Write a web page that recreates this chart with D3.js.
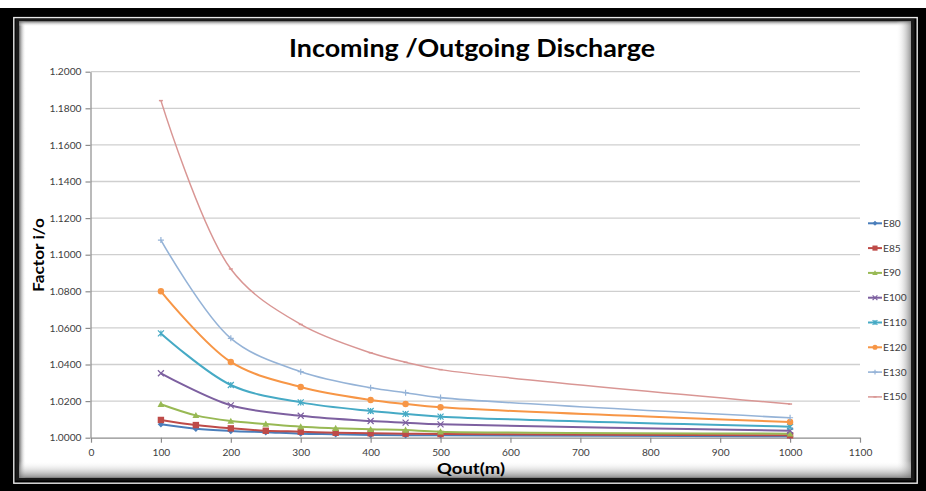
<!DOCTYPE html>
<html>
<head>
<meta charset="utf-8">
<script src="https://cdn.jsdelivr.net/npm/d3@7/dist/d3.min.js"></script>
<style>
  html, body { margin: 0; padding: 0; background: #fff; }
  svg { display: block; font-family: Lato, "Noto Sans", sans-serif; }
</style>
</head>
<body>
<svg id="chart" width="926" height="491"></svg>
<script>
// Outgoing discharge (x values) for the densely sampled and the sparse series
const qoutDense  = [100, 150, 200, 250, 300, 350, 400, 450, 500, 1000];
const qoutSparse = [100, 200, 300, 400, 450, 500, 1000];

// Incoming/outgoing factor per series
const e80  = [1.0073, 1.0049, 1.0037, 1.0030, 1.0022, 1.0019, 1.0015, 1.0013, 1.0013, 1.0008];
const e85  = [1.0097, 1.0069, 1.0051, 1.0038, 1.0033, 1.0027, 1.0024, 1.0022, 1.0020, 1.0013];
const e90  = [1.0183, 1.0122, 1.0091, 1.0075, 1.0060, 1.0052, 1.0046, 1.0042, 1.0033, 1.0022];
const e100 = [1.0352, 1.0177, 1.0120, 1.0091, 1.0082, 1.0073, 1.0038];
const e110 = [1.0570, 1.0288, 1.0193, 1.0146, 1.0130, 1.0115, 1.0060];
const e120 = [1.0800, 1.0414, 1.0277, 1.0206, 1.0184, 1.0166, 1.0086];
const e130 = [1.1080, 1.0543, 1.0361, 1.0273, 1.0246, 1.0219, 1.0109];
const e150 = [1.1842, 1.0922, 1.0619, 1.0464, 1.0412, 1.0372, 1.0184];

const seriesNames = ["E80", "E85", "E90", "E100", "E110", "E120", "E130", "E150"];
const xTicks = [0, 100, 200, 300, 400, 500, 600, 700, 800, 900, 1000, 1100];
const yTicks = [1.0, 1.02, 1.04, 1.06, 1.08, 1.1, 1.12, 1.14, 1.16, 1.18, 1.2];

const series = [
  { name: seriesNames[0], xs: qoutDense,  ys: e80,  color: "#4A7EBB", marker: "diamond",  width: 2 },
  { name: seriesNames[1], xs: qoutDense,  ys: e85,  color: "#BE4B48", marker: "square",   width: 2 },
  { name: seriesNames[2], xs: qoutDense,  ys: e90,  color: "#98B954", marker: "triangle", width: 2 },
  { name: seriesNames[3], xs: qoutSparse, ys: e100, color: "#7D60A0", marker: "x",        width: 2 },
  { name: seriesNames[4], xs: qoutSparse, ys: e110, color: "#46AAC5", marker: "star",     width: 2 },
  { name: seriesNames[5], xs: qoutSparse, ys: e120, color: "#F79646", marker: "circle",   width: 2 },
  { name: seriesNames[6], xs: qoutSparse, ys: e130, color: "#95B3D7", marker: "plus",     width: 1.6 },
  { name: seriesNames[7], xs: qoutSparse, ys: e150, color: "#D99694", marker: "dash",     width: 1.5 }
];

const svg = d3.select("#chart");
const W = 926, H = 491;

// ---- frame ----
const defs = svg.append("defs");
function grad(id, x1, y1, x2, y2, stops) {
  const g = defs.append("linearGradient").attr("id", id)
    .attr("x1", x1).attr("y1", y1).attr("x2", x2).attr("y2", y2);
  stops.forEach(s => g.append("stop").attr("offset", s[0]).attr("stop-color", s[1]).attr("stop-opacity", s[2]));
}
grad("shL", "0", "0", "1", "0", [[0, "#555", 0.9], [1, "#fff", 0]]);
grad("shT", "0", "0", "0", "1", [[0, "#666", 0.8], [1, "#fff", 0]]);
grad("shR", "0", "0", "1", "0", [[0, "#fff", 0], [1, "#777", 0.75]]);
grad("shB", "0", "0", "0", "1", [[0, "#fff", 0], [1, "#777", 0.8]]);

svg.append("rect").attr("width", W).attr("height", H).attr("fill", "#fff");
svg.append("rect").attr("x", 0).attr("y", 8).attr("width", W).attr("height", H - 8).attr("fill", "#000");
svg.append("rect").attr("x", 13.8).attr("y", 17.6).attr("width", 903.4).attr("height", 465.6)
  .attr("fill", "none").attr("stroke", "#e8e8e8").attr("stroke-width", 1.4);
svg.append("rect").attr("x", 15.5).attr("y", 19).attr("width", 899).attr("height", 461.5).attr("fill", "#1a1a1a");
svg.append("rect").attr("x", 19).attr("y", 21.5).attr("width", 892).attr("height", 456).attr("fill", "#fff");
svg.append("rect").attr("x", 19).attr("y", 21.5).attr("width", 7).attr("height", 456).attr("fill", "url(#shL)");
svg.append("rect").attr("x", 19).attr("y", 21.5).attr("width", 892).attr("height", 5).attr("fill", "url(#shT)");
svg.append("rect").attr("x", 896).attr("y", 21.5).attr("width", 15).attr("height", 456).attr("fill", "url(#shR)");
svg.append("rect").attr("x", 19).attr("y", 461).attr("width", 892).attr("height", 16.5).attr("fill", "url(#shB)");

// ---- scales ----
const x = d3.scaleLinear().domain([0, 1100]).range([91, 860]);
const y = d3.scaleLinear().domain([1.0, 1.2]).range([437.7, 71.7]);

// gridlines
svg.append("g").selectAll("line").data(yTicks.slice(1)).join("line")
  .attr("x1", x(0)).attr("x2", x(1100))
  .attr("y1", d => y(d)).attr("y2", d => y(d))
  .attr("stroke", "#cfcfcf").attr("stroke-width", 1.3);

// y axis
const yAxis = svg.append("g").attr("transform", `translate(${x(0) - 0.5},0)`)
  .call(d3.axisLeft(y).tickValues(yTicks).tickFormat(d3.format(".4f")).tickSize(5).tickSizeOuter(0));
yAxis.select(".domain").attr("stroke", "#8c8c8c").attr("stroke-width", 1.2);
yAxis.selectAll(".tick line").attr("stroke", "#8c8c8c").attr("stroke-width", 1.2);
yAxis.selectAll(".tick text").attr("x", -9).attr("fill", "#404040")
  .style("font-size", "10.2px").style("font-family", "Lato, sans-serif");

// x axis
const xAxis = svg.append("g").attr("transform", `translate(0,${y(1.0)})`)
  .call(d3.axisBottom(x).tickValues(xTicks).tickFormat(d3.format("d")).tickSize(5).tickSizeOuter(0));
xAxis.select(".domain").attr("stroke", "#8c8c8c").attr("stroke-width", 1.2);
xAxis.selectAll(".tick line").attr("stroke", "#8c8c8c").attr("stroke-width", 1.2);
xAxis.selectAll(".tick text").attr("y", 11).attr("fill", "#404040")
  .style("font-size", "10.2px").style("font-family", "Lato, sans-serif");

// ---- markers ----
function drawMarker(g, type, color, s) {
  switch (type) {
    case "diamond":
      g.append("path").attr("d", `M0,${-s}L${s},0L0,${s}L${-s},0Z`).attr("fill", color);
      break;
    case "square":
      g.append("rect").attr("x", -s).attr("y", -s).attr("width", 2 * s).attr("height", 2 * s).attr("fill", color);
      break;
    case "triangle":
      g.append("path").attr("d", `M0,${-s}L${s},${s * 0.8}L${-s},${s * 0.8}Z`).attr("fill", color);
      break;
    case "x":
      g.append("path").attr("d", `M${-s},${-s}L${s},${s}M${-s},${s}L${s},${-s}`)
        .attr("stroke", color).attr("stroke-width", 1.2).attr("fill", "none");
      break;
    case "star":
      g.append("path").attr("d", `M${-s},${-s}L${s},${s}M${-s},${s}L${s},${-s}M0,${-s}L0,${s}`)
        .attr("stroke", color).attr("stroke-width", 1.2).attr("fill", "none");
      break;
    case "circle":
      g.append("circle").attr("r", s).attr("fill", color);
      break;
    case "plus":
      g.append("path").attr("d", `M${-s},0L${s},0M0,${-s}L0,${s}`)
        .attr("stroke", color).attr("stroke-width", 1.2).attr("fill", "none");
      break;
    case "dash":
      g.append("path").attr("d", `M${-s},0L${s},0`)
        .attr("stroke", color).attr("stroke-width", 1.5).attr("fill", "none");
      break;
  }
}
const markerSize = { diamond: 3.2, square: 3.2, triangle: 3.4, x: 3, star: 3, circle: 3.2, plus: 3, dash: 2 };

// ---- lines ----
const line = d3.line().curve(d3.curveCatmullRom.alpha(0.5))
  .x(d => x(d[0])).y(d => y(d[1]));

const plot = svg.append("g");
series.forEach(s => {
  const pts = s.xs.map((q, i) => [q, s.ys[i]]);
  plot.append("path").datum(pts).attr("d", line)
    .attr("fill", "none").attr("stroke", s.color).attr("stroke-width", s.width)
    .attr("stroke-linejoin", "round");
  pts.forEach(p => {
    const g = plot.append("g").attr("transform", `translate(${x(p[0])},${y(p[1])})`);
    drawMarker(g, s.marker, s.color, markerSize[s.marker]);
  });
});

// ---- legend ----
const legend = svg.append("g");
series.forEach((s, i) => {
  const ly = 223.3 + i * 24.8;
  legend.append("line").attr("x1", 868).attr("x2", 882).attr("y1", ly).attr("y2", ly)
    .attr("stroke", s.color).attr("stroke-width", s.width);
  const g = legend.append("g").attr("transform", `translate(875,${ly})`);
  drawMarker(g, s.marker, s.color, markerSize[s.marker] * 0.8);
  legend.append("text").attr("x", 883).attr("y", ly).attr("dy", "0.35em")
    .attr("fill", "#404040").style("font-size", "10.2px").text(s.name);
});

// ---- titles ----
svg.append("text").attr("x", 472).attr("y", 57).attr("text-anchor", "middle")
  .attr("textLength", 366).attr("lengthAdjust", "spacingAndGlyphs")
  .attr("fill", "#000").style("font-size", "25px").style("font-weight", "bold")
  .text("Incoming /Outgoing Discharge");

svg.append("text").attr("x", 437).attr("y", 474).attr("textLength", 68).attr("lengthAdjust", "spacingAndGlyphs")
  .attr("fill", "#000").style("font-size", "15.5px").style("font-weight", "bold")
  .text("Qout(m)");

svg.append("text").attr("transform", "translate(43.5,255) rotate(-90)").attr("text-anchor", "middle")
  .attr("textLength", 74).attr("lengthAdjust", "spacingAndGlyphs")
  .attr("fill", "#000").style("font-size", "16px").style("font-weight", "bold")
  .text("Factor i/o");
</script>
</body>
</html>
